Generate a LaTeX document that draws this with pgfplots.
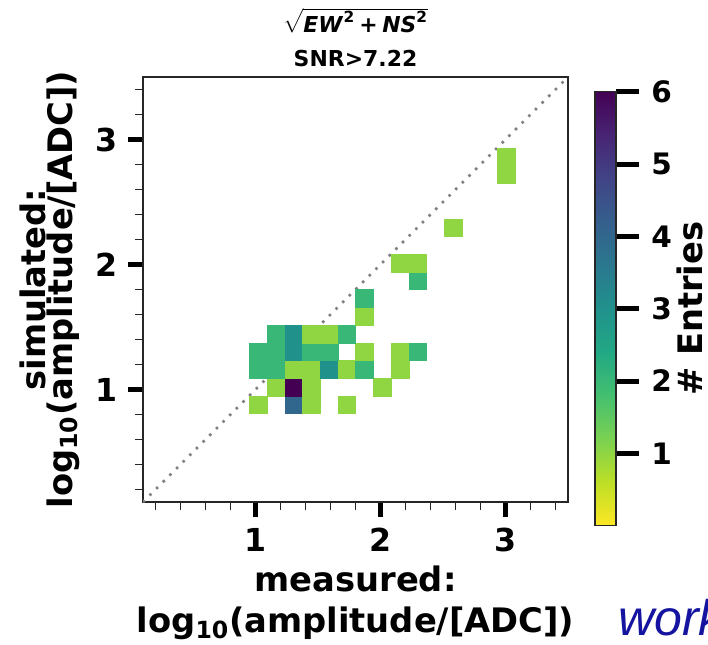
\documentclass[border=0pt]{standalone}
\usepackage{amsmath}
\usepackage{fontspec}
\setmainfont{DejaVu Sans}
\newfontfamily\workfont{Liberation Sans}
\usepackage{pgfplots}
\usepackage{pgfplotstable}
\pgfplotsset{compat=1.18}

\definecolor{workblue}{RGB}{20,20,160}
\definecolor{spine}{RGB}{38,38,38}

% reversed viridis (yellow at 0, purple at 6)
\pgfplotsset{
  colormap={viridisrev}{
    rgb255=(253,231,37) rgb255=(189,223,38) rgb255=(122,209,81)
    rgb255=(68,191,112) rgb255=(34,168,132) rgb255=(33,145,140)
    rgb255=(42,120,142) rgb255=(53,95,141) rgb255=(65,68,135)
    rgb255=(72,36,117) rgb255=(68,1,84)
  }
}

% non-empty 2D histogram bins (bin centres, 24 bins on [0.1,3.5]) and entries
\pgfplotstableread{
x        y        n
1.020833 0.879167 1
1.304167 0.879167 4
1.445833 0.879167 1
1.729167 0.879167 1
1.162500 1.020833 1
1.304167 1.020833 6
1.445833 1.020833 1
2.012500 1.020833 1
1.020833 1.162500 2
1.162500 1.162500 2
1.304167 1.162500 1
1.445833 1.162500 1
1.587500 1.162500 3
1.729167 1.162500 1
1.870833 1.162500 2
2.154167 1.162500 1
1.020833 1.304167 2
1.162500 1.304167 2
1.304167 1.304167 3
1.445833 1.304167 2
1.587500 1.304167 2
1.870833 1.304167 1
2.154167 1.304167 1
2.295833 1.304167 2
1.162500 1.445833 2
1.304167 1.445833 3
1.445833 1.445833 1
1.587500 1.445833 1
1.729167 1.445833 2
1.870833 1.587500 1
1.870833 1.729167 2
2.295833 1.870833 2
2.154167 2.012500 1
2.295833 2.012500 1
2.579167 2.295833 1
3.004167 2.720833 1
3.004167 2.862500 1
}\histcells

\begin{document}
\begin{tikzpicture}
\begin{axis}[
  at={(35.75mm,35.5mm)}, anchor=south west,
  scale only axis, width=106.25mm, height=106.25mm,
  xmin=0.1, xmax=3.5, ymin=0.1, ymax=3.5,
  axis line style={spine, line width=0.5mm},
  tick align=outside, xtick pos=left, ytick pos=left,
  xtick={1,2,3}, ytick={1,2,3},
  xticklabels={1,2,3}, yticklabels={1,2,3},
  minor xtick={0.2,0.4,0.6,0.8,1.2,1.4,1.6,1.8,2.2,2.4,2.6,2.8,3.2,3.4},
  minor ytick={0.2,0.4,0.6,0.8,1.2,1.4,1.6,1.8,2.2,2.4,2.6,2.8,3.2,3.4},
  major tick length=3.75mm, minor tick length=2mm,
  major tick style={line width=1.25mm, black},
  minor tick style={line width=0.4mm, spine},
  tick label style={font=\fontsize{22.5}{27}\selectfont\bfseries, inner sep=0pt},
  xticklabel shift=2.75mm, yticklabel shift=2.5mm,
  xlabel={measured:\\log\textsubscript{10}(amplitude/[ADC])},
  xlabel style={at={(axis description cs:0.5,-0.1506)}, anchor=north, inner sep=0pt,
    align=center, font=\fontsize{24}{29.2}\selectfont\bfseries},
  ylabel={simulated:\\log\textsubscript{10}(amplitude/[ADC])},
  ylabel style={at={(axis description cs:-0.2894,0.5)}, anchor=north, inner sep=0pt,
    align=center, font=\fontsize{24}{18.6}\selectfont\bfseries},
  title={$\sqrt{\textbf{\textit{EW}}^{\textbf{2}}\mathbin{\textbf{+}}\textbf{\textit{NS}}^{\textbf{2}}}$\\SNR>7.22},
  title style={at={(axis description cs:0.5,1.0259)}, anchor=south, yshift=-2.5mm,
    inner sep=0pt, align=center, font=\fontsize{15.6}{24.2}\selectfont\bfseries},
  colormap name=viridisrev, point meta min=0, point meta max=6,
  colorbar,
  colorbar style={
    at={(parent axis.north east)}, anchor=north west,
    xshift=3.75mm, yshift=-3.675mm,
    scale only axis, width=5.25mm, height=108.5mm,
    axis line style={spine, line width=0.375mm},
    ytick={1,2,3,4,5,6}, yticklabels={1,2,3,4,5,6}, minor ytick={},
    ytick pos=right, yticklabel pos=right, tick align=outside,
    major tick length=5.75mm,
    major tick style={line width=1.25mm, black},
    yticklabel style={font=\fontsize{21}{25}\selectfont\bfseries, inner sep=0pt, anchor=west},
    yticklabel shift=3mm,
    ylabel={\# Entries},
    ylabel style={at={(axis description cs:3.9,0.5)}, anchor=north, inner sep=0pt,
      font=\fontsize{24}{28}\selectfont\bfseries},
  },
]
\addplot[scatter, only marks, mark=square*, mark size=6.298pt,
  point meta=explicit,
  scatter/use mapped color={draw=mapped color, fill=mapped color},
  mark options={line width=0.1pt}]
  table[x=x, y=y, meta=n] {\histcells};
\addplot[color=gray, line width=0.9mm, line cap=round, dash pattern=on 0pt off 2.35mm]
  coordinates {(0,0) (4,4)};
\end{axis}
\node[anchor=base west, inner sep=0pt, text=workblue,
  font=\workfont\itshape\fontsize{35.6}{40}\selectfont] at (154.5mm,2.25mm) {work};
\pgfresetboundingbox
\useasboundingbox (0,0) rectangle (177mm,161mm);
\end{tikzpicture}
\end{document}
